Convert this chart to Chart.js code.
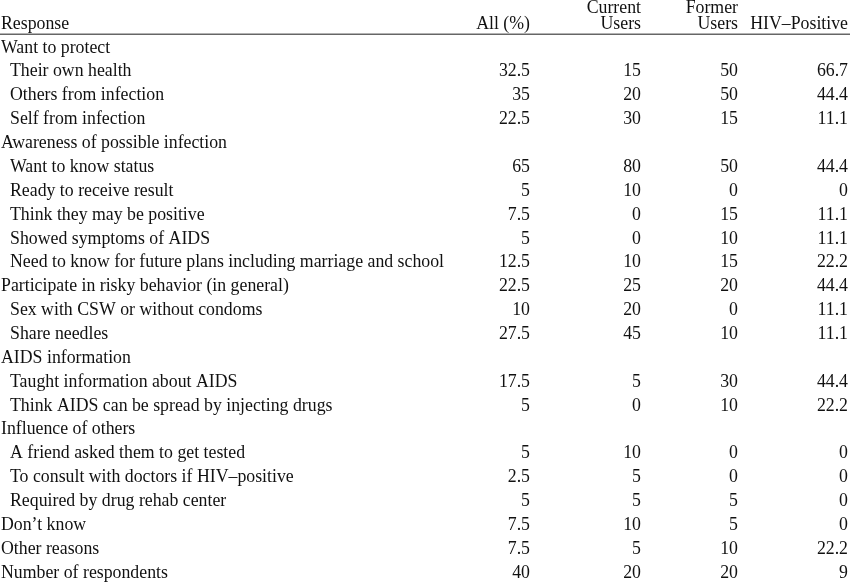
<!DOCTYPE html>
<html><head><meta charset="utf-8">
<script src="https://cdn.jsdelivr.net/npm/chart.js@4"></script>
<style>html,body{margin:0;padding:0;background:#fff}#w{width:850px;height:583px}</style>
</head><body><div id="w"><canvas id="c"></canvas></div>
<script>
const headers = [["Response"], ["All (%)"], ["Current","Users"], ["Former","Users"], ["HIV\u2013Positive"]];
const responses = ["Want to protect","Their own health","Others from infection","Self from infection","Awareness of possible infection","Want to know status","Ready to receive result","Think they may be positive","Showed symptoms of AIDS","Need to know for future plans including marriage and school","Participate in risky behavior (in general)","Sex with CSW or without condoms","Share needles","AIDS information","Taught information about AIDS","Think AIDS can be spread by injecting drugs","Influence of others","A friend asked them to get tested","To consult with doctors if HIV\u2013positive","Required by drug rehab center","Don\u2019t know","Other reasons","Number of respondents"];
const indented = [false,true,true,true,false,true,true,true,true,true,false,true,true,false,true,true,false,true,true,true,false,false,false];
const allPct = ["","32.5","35","22.5","","65","5","7.5","5","12.5","22.5","10","27.5","","17.5","5","","5","2.5","5","7.5","7.5","40"];
const currentUsers = ["","15","20","30","","80","10","0","0","10","25","20","45","","5","0","","10","5","5","10","5","20"];
const formerUsers = ["","50","50","15","","50","0","15","10","15","20","0","10","","30","10","","0","0","5","5","10","20"];
const hivPositive = ["","66.7","44.4","11.1","","44.4","0","11.1","11.1","22.2","44.4","11.1","11.1","","44.4","22.2","","0","0","0","0","22.2","9"];

const colX = [1, 530, 641, 738, 848];
const cols = [null, allPct, currentUsers, formerUsers, hivPositive];
const FONT = '17.8px "Liberation Serif", "DejaVu Serif", serif';

const tablePlugin = {
  id: 'table',
  afterDatasetsDraw(chart) {
    const {ctx, scales:{x,y}} = chart;
    ctx.save();
    ctx.font = FONT; ctx.fillStyle = '#111'; ctx.textBaseline = 'middle';
    headers.forEach((h,i)=>{
      ctx.textAlign = i===0 ? 'left' : 'right';
      const px = x.getPixelForValue(colX[i]);
      h.forEach((line,k)=>{
        const r = -1 - (h.length-1-k)*0.67;
        ctx.fillText(line, px, y.getPixelForValue(r));
      });
    });
    ctx.strokeStyle = '#666'; ctx.lineWidth = 1.5;
    const ly = y.getPixelForValue(-0.58);
    ctx.beginPath(); ctx.moveTo(0, ly); ctx.lineTo(850, ly); ctx.stroke();
    responses.forEach((r,ri)=>{
      const py = y.getPixelForValue(ri);
      ctx.textAlign = 'left';
      ctx.fillText(r, x.getPixelForValue(colX[0] + (indented[ri]?9:0)), py);
      ctx.textAlign = 'right';
      for (let c=1;c<5;c++) if (cols[c][ri] !== "") ctx.fillText(cols[c][ri], x.getPixelForValue(colX[c]), py);
    });
    ctx.restore();
  }
};

new Chart(document.getElementById('c'), {
  type: 'scatter',
  data: { datasets: [{ data: responses.map((r,i)=>({x:0,y:i})), pointRadius:0 }] },
  options: {
    responsive:true, maintainAspectRatio:false, animation:false,
    layout:{padding:0},
    plugins:{legend:{display:false}, tooltip:{enabled:false}},
    scales:{
      x:{type:'linear', min:0, max:850, display:false},
      y:{type:'linear', min:-2.01, max:22.42, reverse:true, display:false}
    }
  },
  plugins:[tablePlugin]
});
</script></body></html>
